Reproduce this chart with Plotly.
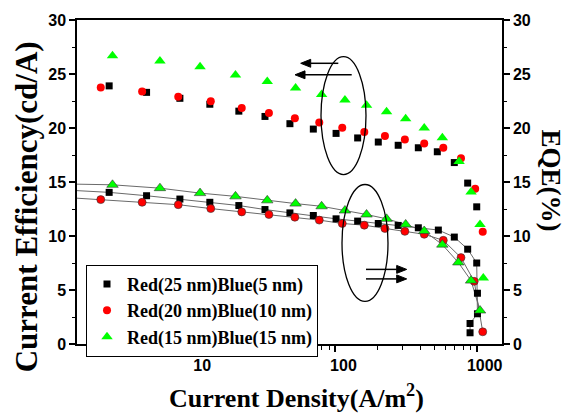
import math
import plotly.graph_objects as go

# ---------------- data ----------------
series_names = ["Red(25 nm)Blue(5 nm)", "Red(20 nm)Blue(10 nm)", "Red(15 nm)Blue(15 nm)"]

# Current efficiency (left axis)
ce_x_black = [2.50, 4.60, 7.92, 12.9, 20.7, 31.7, 47.6, 69.7, 101, 143.6, 201, 278, 386, 526, 694, 863, 1000]
ce_y_black = [23.9, 23.3, 22.75, 22.2, 21.56, 21.07, 20.4, 19.9, 19.5, 19.08, 18.7, 18.4, 18.17, 17.8, 16.8, 14.9, 12.7]

ce_x_red = [2.18, 4.28, 7.71, 13.1, 21.7, 33.8, 51.6, 76.8, 111.7, 160, 224, 310, 425, 580, 774, 975, 1103]
ce_y_red = [23.76, 23.39, 22.9, 22.48, 21.86, 21.38, 20.9, 20.5, 20.03, 19.63, 19.27, 18.93, 18.56, 18.17, 17.2, 14.38, 10.4]

ce_x_green = [2.64, 5.72, 11.0, 19.6, 32.9, 52.2, 79.8, 116.7, 166, 230, 314, 425, 571, 750, 912, 1055, 1113]
ce_y_green = [26.7, 26.2, 25.66, 24.9, 24.3, 23.7, 23.1, 22.6, 22.1, 21.5, 20.85, 20.0, 19.1, 16.9, 14.07, 11.07, 6.1]

# EQE (right axis)
eqe_x_black = [2.50, 4.60, 7.92, 12.9, 20.7, 31.7, 47.6, 69.7, 101, 143.6, 201, 278, 386, 535, 694, 863, 1000, 1012, 1012, 897, 897]
eqe_y_black = [14.04, 13.73, 13.42, 13.12, 12.82, 12.45, 12.14, 11.9, 11.59, 11.38, 11.16, 10.98, 10.76, 10.55, 9.9, 8.78, 7.5, 4.7, 2.8, 1.9, 1.04]

eqe_x_red = [2.18, 4.28, 7.71, 13.1, 21.7, 33.8, 51.6, 76.8, 111.7, 160, 224, 310, 425, 580, 774, 960, 1103]
eqe_y_red = [13.37, 13.12, 12.9, 12.54, 12.23, 11.99, 11.74, 11.47, 11.16, 11.0, 10.7, 10.43, 10.16, 9.6, 8.0, 5.8, 1.13]

eqe_x_green = [2.64, 5.72, 11.0, 19.6, 32.9, 52.2, 79.8, 116.7, 166, 230, 314, 425, 571, 741, 912, 1055]
eqe_y_green = [14.74, 14.43, 13.97, 13.67, 13.3, 13.0, 12.75, 12.36, 11.99, 11.59, 11.07, 10.46, 9.2, 7.55, 5.87, 3.1]

# fit-line start values at left edge of the axis
fit_x_left = 1.48
fit_start_eqe = [14.2, 13.5, 14.8]

x_range = [1.48, 1510]
y_range = [0, 30]
x_tickvals = [10, 100, 1000]
x_minor_vals = [2, 3, 4, 5, 6, 7, 8, 9, 20, 30, 40, 50, 60, 70, 80, 90, 200, 300, 400, 500, 600, 700, 800, 900]

# ---------------- figure ----------------
colors = ["#000000", "#FF0000", "#00FF00"]
symbols = ["square", "circle", "triangle-up"]
sizes = [7, 8, 10]

ce_x = [ce_x_black, ce_x_red, ce_x_green]
ce_y = [ce_y_black, ce_y_red, ce_y_green]
eqe_x = [eqe_x_black, eqe_x_red, eqe_x_green]
eqe_y = [eqe_y_black, eqe_y_red, eqe_y_green]

fig = go.Figure()

# fit / connecting lines for EQE
for i in range(3):
    fig.add_trace(go.Scatter(
        x=[fit_x_left] + eqe_x[i], y=[fit_start_eqe[i]] + eqe_y[i],
        mode="lines", line=dict(color="#6a6a6a", width=1),
        yaxis="y2", showlegend=False, hoverinfo="skip"))

# EQE markers
for i in range(3):
    fig.add_trace(go.Scatter(
        x=eqe_x[i], y=eqe_y[i], mode="markers",
        marker=dict(symbol=symbols[i], size=sizes[i], color=colors[i],
                    line=dict(color="#333333", width=0.6 if i > 0 else 0)),
        yaxis="y2", showlegend=False))

# CE markers (legend)
for i in range(3):
    fig.add_trace(go.Scatter(
        x=ce_x[i], y=ce_y[i], mode="markers", name=series_names[i],
        marker=dict(symbol=symbols[i], size=sizes[i], color=colors[i], line=dict(width=0)),
        yaxis="y"))

W, H = 566, 417
L, R, T, B = 77, 64, 17, 73
pw, ph = W - L - R, H - T - B


def fx(px):
    return (px - L) / pw


def fy(py):
    return (H - B - py) / ph


tickfont = dict(family="Liberation Sans", size=16, color="black", weight="bold")
serif = "Liberation Serif"

fig.update_layout(
    width=W, height=H,
    margin=dict(l=L, r=R, t=T, b=B, pad=0),
    paper_bgcolor="white", plot_bgcolor="white",
    showlegend=True,
    legend=dict(x=fx(86), y=fy(264), xanchor="left", yanchor="top",
                bgcolor="white", bordercolor="black", borderwidth=1,
                font=dict(family=serif, size=18, color="black", weight="bold"),
                tracegroupgap=0, itemsizing="trace"),
    xaxis=dict(type="log", range=[math.log10(x_range[0]), math.log10(x_range[1])],
               tickmode="array", tickvals=x_tickvals, ticktext=[str(v) for v in x_tickvals],
               ticks="outside", ticklen=6, tickwidth=1.5, tickcolor="black",
               ticklabelshift=8,
               minor=dict(tickmode="array", tickvals=x_minor_vals, ticks="outside",
                          ticklen=4, tickwidth=1.2, tickcolor="black", showgrid=False),
               showline=True, linecolor="black", linewidth=1.5, mirror=True,
               showgrid=False, zeroline=False, tickfont=tickfont),
    yaxis=dict(range=y_range, dtick=5, ticks="outside", ticklen=6, tickwidth=1.5,
               tickcolor="black",
               minor=dict(dtick=2.5, ticks="outside", ticklen=3, tickwidth=1.2,
                          tickcolor="black", showgrid=False),
               showline=True, linecolor="black", linewidth=1.5,
               showgrid=False, zeroline=False, tickfont=tickfont),
    yaxis2=dict(range=y_range, dtick=5, overlaying="y", side="right",
                ticks="outside", ticklen=6, tickwidth=1.5, tickcolor="black",
                minor=dict(dtick=2.5, ticks="outside", ticklen=3, tickwidth=1.2,
                           tickcolor="black", showgrid=False),
                showline=True, linecolor="black", linewidth=1.5,
                showgrid=False, zeroline=False, tickfont=tickfont),
)

# axis titles
fig.add_annotation(text="Current Efficiency(cd/A)", xref="paper", yref="paper",
                   x=fx(26), y=fy(206), textangle=-90, showarrow=False,
                   xanchor="center", yanchor="middle",
                   font=dict(family=serif, size=31, color="black", weight="bold"))
fig.add_annotation(text="Current Density(A/m<sup>2</sup>)", xref="paper", yref="paper",
                   x=fx(296), y=fy(397), showarrow=False,
                   xanchor="center", yanchor="middle",
                   font=dict(family=serif, size=26, color="black", weight="bold"))
fig.add_annotation(text="EQE(%)", xref="paper", yref="paper",
                   x=fx(551), y=fy(179), textangle=90, showarrow=False,
                   xanchor="center", yanchor="middle",
                   font=dict(family=serif, size=27, color="black", weight="bold"))

# ellipses
fig.add_shape(type="circle", xref="paper", yref="paper",
              x0=fx(321), x1=fx(366), y0=fy(173), y1=fy(54),
              line=dict(color="black", width=1.3))
fig.add_shape(type="circle", xref="paper", yref="paper",
              x0=fx(342), x1=fx(388), y0=fy(301), y1=fy(183),
              line=dict(color="black", width=1.3))

# arrows drawn as shapes: (tip x, y, tail x)
arrows = [(300.7, 60.7, 338.3), (295, 72.3, 351.7), (406.7, 268.7, 366), (406.7, 278.3, 366)]
head_len, head_half = 10, 4
for tx, ty, sx in arrows:
    d = 1 if sx > tx else -1
    bx = tx + d * head_len
    fig.add_shape(type="line", xref="paper", yref="paper",
                  x0=fx(sx), y0=fy(ty), x1=fx(bx), y1=fy(ty),
                  line=dict(color="black", width=1.5))
    path = (f"M {fx(tx)} {fy(ty)} L {fx(bx)} {fy(ty - head_half)} "
            f"L {fx(bx)} {fy(ty + head_half)} Z")
    fig.add_shape(type="path", xref="paper", yref="paper", path=path,
                  fillcolor="black", line=dict(color="black", width=1))

fig.write_html("out.html")
